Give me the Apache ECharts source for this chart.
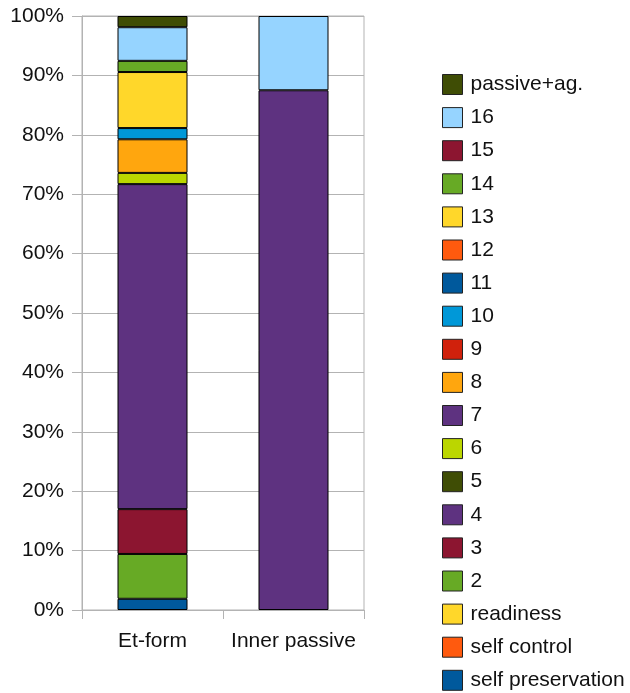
<!DOCTYPE html>
<html>
<head>
<meta charset="utf-8">
<script src="https://cdn.jsdelivr.net/npm/echarts@6/dist/echarts.min.js"></script>
<style>
  html, body { margin: 0; padding: 0; background: #ffffff; }
  #chart { width: 630px; height: 693px; }
</style>
</head>
<body>
<div id="chart"></div>
<script>
// Categories on the x axis
const categories = ['Et-form', 'Inner passive'];

// Series, listed bottom-to-top in the stack
const seriesNames = ['self preservation', 'self control', 'readiness', '2', '3', '4', '5', '6',
  '7', '8', '9', '10', '11', '12', '13', '14', '15', '16', 'passive+ag.'];

// Counts per series for each category
const etFormCounts       = [1, 0, 0, 4, 4, 29, 0, 1, 0, 3, 0, 1, 0, 0, 5, 1, 0, 3, 1];
const innerPassiveCounts = [0, 0, 0, 0, 0, 7,  0, 0, 0, 0, 0, 0, 0, 0, 0, 0, 0, 1, 0];

// Y axis tick values (percent)
const yTicks = [0, 10, 20, 30, 40, 50, 60, 70, 80, 90, 100];

// Fill colour for each series
const seriesColors = ['#00599c', '#ff5a0e', '#ffd72a', '#67aa25', '#8c1530', '#5e3280', '#3f4d05',
  '#bbd600', '#5e3280', '#ffa60e', '#d0210c', '#0098d8', '#00599c', '#ff5a0e', '#ffd72a',
  '#67aa25', '#8c1530', '#96d4ff', '#3f4d05'];

const perCategory = [etFormCounts, innerPassiveCounts];
const totals = perCategory.map(arr => arr.reduce((a, b) => a + b, 0));

const FONT = '"Liberation Sans", Arial, sans-serif';
const GRID_COLOR = '#b3b3b3';
const TEXT_COLOR = '#111111';
const FONT_SIZE = 21;

const series = seriesNames.map((name, i) => ({
  name: name,
  type: 'bar',
  stack: 'share',
  barWidth: 70,
  itemStyle: { color: seriesColors[i], borderColor: '#000000', borderWidth: 1 },
  emphasis: { disabled: true },
  data: perCategory.map((arr, c) => arr[i] > 0 ? arr[i] / totals[c] * 100 : null)
}));

const chart = echarts.init(document.getElementById('chart'), null, { renderer: 'canvas' });
chart.setOption({
  animation: false,
  backgroundColor: '#ffffff',
  textStyle: { fontFamily: FONT },
  grid: {
    left: 82, right: 266, top: 16, bottom: 83,
    show: true, borderColor: GRID_COLOR, borderWidth: 1, backgroundColor: 'transparent'
  },
  legend: {
    orient: 'vertical',
    left: 442,
    top: 74,
    height: 640,
    padding: 0,
    itemWidth: 20,
    itemHeight: 20,
    itemGap: 12.1,
    icon: 'rect',
    data: seriesNames.slice().reverse(),
    textStyle: {
      fontFamily: FONT, fontSize: FONT_SIZE, color: TEXT_COLOR,
      lineHeight: 21, padding: [0, 0, 0, 3]
    },
    itemStyle: { borderColor: '#222222', borderWidth: 1 }
  },
  xAxis: {
    type: 'category',
    data: categories,
    axisLine: { lineStyle: { color: GRID_COLOR, width: 1 } },
    axisTick: { show: true, length: 9, lineStyle: { color: GRID_COLOR } },
    axisLabel: { interval: 0, fontFamily: FONT, fontSize: FONT_SIZE, color: TEXT_COLOR, margin: 21 },
    splitLine: { show: false }
  },
  yAxis: {
    type: 'value',
    min: yTicks[0],
    max: yTicks[yTicks.length - 1],
    interval: yTicks[1] - yTicks[0],
    axisLine: { show: true, lineStyle: { color: GRID_COLOR, width: 1 } },
    axisTick: { show: true, length: 10, lineStyle: { color: GRID_COLOR } },
    axisLabel: { fontFamily: FONT, fontSize: FONT_SIZE, color: TEXT_COLOR, margin: 18, formatter: '{value}%' },
    splitLine: { show: true, lineStyle: { color: GRID_COLOR, width: 1 } }
  },
  series: series
});
</script>
</body>
</html>
